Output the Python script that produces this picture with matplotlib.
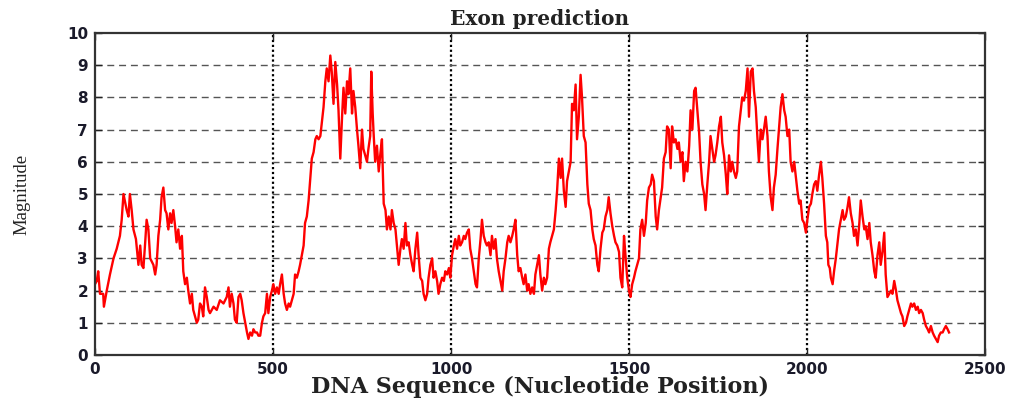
import matplotlib
matplotlib.use("Agg")
import matplotlib.pyplot as plt
import numpy as np

# ---- data (nucleotide position, magnitude) ----
positions = [
    0, 5, 9, 14, 23, 25, 33, 42, 52, 61, 70, 75, 80, 89, 94, 98, 103, 108, 115, 122,
    127, 131, 136, 141, 145, 150, 155, 164, 169, 173, 178, 183, 187, 192, 197, 201, 206, 211, 215, 220,
    225, 229, 234, 239, 244, 248, 253, 258, 262, 267, 272, 276, 281, 286, 290, 295, 300, 304, 309, 314,
    319, 323, 333, 342, 351, 361, 370, 375, 379, 384, 389, 393, 398,
    403, 408, 412, 417, 422, 427, 431, 436, 441, 445, 450, 455, 459, 464, 469, 473, 478, 483, 487, 492,
    497, 501, 506, 511, 516, 520, 525, 530, 534, 539, 544, 548, 553, 558, 562, 567, 572, 576, 581, 586,
    590, 595, 600, 605, 609, 614, 619, 623, 628, 633, 637, 642, 647, 651, 656, 661, 665, 670, 675, 680,
    684, 689, 694, 698, 703, 708, 712, 717, 722, 726, 731, 736, 740, 745, 750, 754, 759, 764, 768, 773,
    776, 780, 783, 787, 792, 797,
    802, 806, 811, 816, 820, 825, 830, 834, 839, 844, 848, 853, 858, 862, 867, 872, 876, 881, 886, 891,
    895, 900, 905, 909, 914, 919, 923, 928, 933, 937, 942, 947, 951, 956, 961, 965, 970, 975, 980, 984,
    989, 994, 998, 1003, 1008, 1012, 1017, 1022, 1026, 1031, 1036, 1040, 1045, 1050, 1054, 1059, 1064, 1069, 1073, 1078,
    1083, 1087, 1092, 1097, 1101, 1106, 1111, 1115, 1120, 1125, 1129, 1134, 1139, 1144, 1148, 1153, 1158, 1162, 1167, 1172,
    1176, 1181, 1186, 1190, 1195, 1200, 1204, 1209, 1214, 1218, 1223,
    1228, 1233, 1237, 1242, 1247, 1251, 1256, 1261, 1265, 1270, 1275, 1279, 1284, 1289, 1294, 1298, 1303, 1308, 1312, 1317,
    1322, 1326, 1331, 1336, 1340, 1345, 1350, 1354, 1359, 1364, 1368, 1373, 1378, 1383, 1387, 1392, 1397, 1401, 1406, 1411,
    1415, 1420, 1425, 1429, 1434, 1439, 1443, 1448, 1453, 1458, 1462, 1467, 1472, 1476, 1481, 1486, 1490, 1495, 1500, 1504,
    1509, 1514, 1518, 1523, 1528, 1532, 1537, 1542, 1547, 1551, 1556, 1561, 1565, 1570, 1575, 1579, 1584, 1589, 1593, 1598,
    1603, 1607, 1612, 1617, 1621, 1626, 1631,
    1636, 1640, 1645, 1650, 1654, 1659, 1664, 1669, 1673, 1678, 1683, 1687, 1692, 1697, 1701, 1706, 1711, 1715, 1720, 1725,
    1729, 1734, 1739, 1743, 1748, 1753, 1758, 1762, 1767, 1772, 1776, 1781, 1786, 1790, 1795, 1800, 1804, 1809, 1814, 1818,
    1823, 1828, 1833, 1837, 1842, 1847, 1851, 1856, 1861, 1865, 1870, 1875, 1879, 1884, 1889, 1893, 1898, 1903, 1907, 1912,
    1917, 1922, 1926, 1931, 1936, 1940, 1945, 1950, 1954, 1959, 1964, 1968, 1973, 1978, 1982, 1987, 1992, 1997, 2001, 2006,
    2011, 2015, 2020,
    2025, 2029, 2034, 2039, 2043, 2048, 2053, 2057, 2060, 2064, 2067, 2072, 2076, 2081, 2086, 2090, 2095, 2100, 2104, 2109,
    2114, 2118, 2123, 2128, 2132, 2137, 2142, 2147, 2151, 2156, 2161, 2165, 2170, 2175, 2179, 2184, 2189, 2193, 2198, 2203,
    2207, 2212, 2217, 2221, 2226, 2231, 2236, 2240, 2245, 2250, 2254, 2259, 2264, 2268, 2273, 2278, 2282, 2287, 2292, 2296,
    2301, 2306, 2311, 2315, 2320, 2325, 2329, 2334, 2339, 2343, 2348, 2353, 2357, 2362, 2367, 2371, 2376, 2381, 2385, 2390,
    2395, 2399,
]

magnitude = [
    2.2, 2.3, 2.6, 1.9, 1.9, 1.5, 2.0, 2.5, 3.0, 3.3, 3.7, 4.2, 5.0, 4.5, 4.3, 5.0, 4.5, 3.9, 3.6, 2.8,
    3.4, 2.8, 2.7, 3.5, 4.2, 3.9, 3.0, 2.8, 2.5, 2.8, 3.7, 4.2, 4.9, 5.2, 4.5, 4.4, 3.9, 4.4, 4.1, 4.5,
    4.0, 3.5, 3.9, 3.3, 3.7, 2.6, 2.2, 2.4, 2.0, 1.6, 1.9, 1.4, 1.2, 1.0, 1.1, 1.6, 1.5, 1.2, 2.1, 1.8,
    1.4, 1.3, 1.5, 1.4, 1.7, 1.6, 1.8, 2.1, 1.5, 1.9, 1.6, 1.1, 1.0,
    1.8, 1.9, 1.7, 1.3, 1.0, 0.7, 0.5, 0.7, 0.6, 0.8, 0.7, 0.7, 0.6, 0.6, 1.0, 1.2, 1.3, 1.9, 1.3, 1.8,
    2.0, 2.2, 1.9, 2.1, 1.9, 2.2, 2.5, 1.9, 1.6, 1.4, 1.6, 1.5, 1.7, 1.9, 2.5, 2.4, 2.6, 2.8, 3.1, 3.4,
    4.1, 4.3, 4.8, 5.5, 6.1, 6.3, 6.7, 6.8, 6.7, 6.8, 7.2, 7.7, 8.5, 8.9, 8.5, 9.3, 8.8, 7.8, 9.1, 8.4,
    7.6, 6.1, 7.4, 8.3, 7.5, 8.5, 8.1, 8.9, 7.5, 8.2, 7.7, 7.0, 6.5, 5.8, 7.0, 6.4, 6.2, 6.0, 6.4, 6.8,
    8.8, 7.5, 6.8, 6.0, 6.5, 5.7,
    6.3, 6.7, 4.7, 4.5, 3.9, 4.3, 3.9, 4.5, 4.1, 3.9, 3.4, 2.8, 3.3, 3.6, 3.3, 4.1, 3.4, 3.5, 3.1, 2.8,
    2.6, 3.3, 3.8, 3.1, 2.4, 2.3, 1.9, 1.7, 1.9, 2.4, 2.8, 3.0, 2.4, 2.6, 2.3, 1.9, 2.2, 2.4, 2.3, 2.6,
    2.5, 2.7, 2.4, 3.1, 3.4, 3.6, 3.3, 3.7, 3.4, 3.5, 3.7, 3.6, 3.8, 3.9, 3.3, 3.0, 2.6, 2.2, 2.1, 3.0,
    3.6, 4.2, 3.7, 3.5, 3.4, 3.5, 3.1, 3.7, 3.3, 3.6, 3.0, 2.6, 2.3, 2.0, 2.6, 3.0, 3.5, 3.7, 3.5, 3.7,
    3.9, 4.2, 3.1, 2.6, 2.7, 2.4, 2.2, 2.5, 2.0, 2.2, 1.9,
    2.1, 1.9, 2.5, 2.8, 3.1, 2.5, 2.0, 2.4, 2.2, 2.4, 3.3, 3.5, 3.7, 3.9, 4.5, 5.1, 6.1, 5.5, 6.1, 5.1,
    4.6, 5.4, 5.7, 6.0, 7.8, 7.6, 8.4, 6.7, 7.4, 8.7, 8.0, 6.8, 6.6, 5.3, 4.7, 4.5, 3.9, 3.6, 3.4, 2.8,
    2.6, 3.3, 3.8, 3.9, 4.3, 4.5, 4.9, 4.4, 4.0, 3.7, 3.5, 3.4, 3.2, 2.4, 2.1, 3.7, 3.1, 2.4, 2.0, 1.8,
    2.2, 2.4, 2.6, 2.8, 3.0, 3.9, 4.2, 3.7, 4.1, 4.8, 5.2, 5.3, 5.6, 5.4, 4.3, 3.9, 4.5, 4.9, 5.2, 6.1,
    6.3, 7.1, 7.0, 5.8, 7.1, 6.6, 6.7,
    6.4, 6.6, 6.0, 6.3, 5.4, 6.0, 5.7, 6.5, 7.6, 7.0, 8.2, 8.3, 7.6, 6.9, 6.0, 5.3, 5.0, 4.5, 5.3, 6.0,
    6.8, 6.4, 6.0, 6.2, 6.6, 7.1, 7.4, 6.6, 6.2, 5.6, 5.0, 6.2, 5.7, 6.0, 5.7, 5.5, 5.7, 7.1, 7.6, 8.0,
    7.9, 8.2, 8.9, 7.4, 8.8, 8.9, 8.2, 7.7, 6.7, 6.0, 7.0, 6.7, 7.0, 7.4, 6.8, 5.7, 4.9, 4.5, 5.2, 5.6,
    6.4, 7.1, 7.7, 8.1, 7.6, 7.4, 6.8, 7.0, 6.0, 5.7, 6.0, 5.6, 5.1, 4.7, 4.8, 4.2, 4.1, 3.8, 4.2, 4.6,
    4.7, 5.0, 5.3,
    5.4, 5.1, 5.6, 6.0, 5.5, 4.7, 3.7, 3.5, 2.8, 2.7, 2.4, 2.2, 2.6, 3.0, 3.5, 3.9, 4.2, 4.5, 4.2, 4.3,
    4.6, 4.9, 4.4, 4.1, 3.7, 3.9, 3.4, 4.1, 4.8, 4.3, 3.9, 4.0, 3.6, 4.1, 3.5, 3.1, 2.6, 2.4, 3.1, 3.5,
    2.8, 3.2, 3.8, 2.5, 1.8, 1.9, 2.0, 1.9, 2.3, 2.0, 1.7, 1.5, 1.3, 1.2, 0.9, 1.0, 1.2, 1.4, 1.6, 1.5,
    1.6, 1.4, 1.5, 1.3, 1.4, 1.3, 1.1, 0.9, 0.8, 0.7, 0.9, 0.7, 0.6, 0.5, 0.4, 0.6, 0.7, 0.7, 0.8, 0.9,
    0.8, 0.7,
]

x_ticks = [0, 500, 1000, 1500, 2000, 2500]
y_ticks = list(range(0, 11))
title_text = "Exon prediction"
x_label = "DNA Sequence (Nucleotide Position)"
y_label = "Magnitude"

fig = plt.figure(figsize=(10.16, 3.99), dpi=100)
ax = fig.add_axes([95 / 1016, 1 - 355 / 399, (985 - 95) / 1016, (355 - 33) / 399])

ax.plot(positions, magnitude, color="#ff0000", linewidth=1.7)

ax.set_xlim(0, 2500)
ax.set_ylim(0, 10)
ax.set_xticks(x_ticks)
ax.set_yticks(y_ticks)

# grid: dotted black verticals, dashed grey horizontals
for xv in x_ticks[1:-1]:
    ax.axvline(xv, color="black", linestyle=(0, (1, 1.2)), linewidth=1.6, zorder=0.5)
for yv in y_ticks[1:-1]:
    ax.axhline(yv, color="#555555", linestyle=(0, (5, 3.5)), linewidth=1.0, zorder=0.5)

for sp in ax.spines.values():
    sp.set_color("#333333")
    sp.set_linewidth(1.6)

ax.tick_params(direction="in", top=True, right=True, length=5, width=1.0,
               colors="#222222", pad=5)
for lab in ax.get_xticklabels() + ax.get_yticklabels():
    lab.set_fontfamily("DejaVu Sans")
    lab.set_fontweight("bold")
    lab.set_fontsize(11)
    lab.set_color("#1a1a2a")

ax.set_title(title_text, family="DejaVu Serif", fontweight="bold", fontsize=14.5,
             pad=6, color="#222222")
ax.set_xlabel(x_label, family="DejaVu Serif", fontweight="bold", fontsize=16,
              labelpad=-1, color="#222222")
ax.set_ylabel(y_label, family="Liberation Serif", fontsize=13.5,
              labelpad=26, color="#222222")

fig.savefig("out.png", dpi=100)
